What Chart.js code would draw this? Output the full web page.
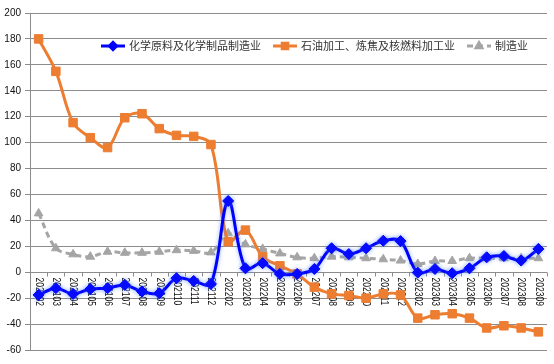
<!DOCTYPE html>
<html>
<head>
<meta charset="utf-8">
<script src="https://cdn.jsdelivr.net/npm/chart.js@4"></script>
<style>
  html, body { margin: 0; padding: 0; background: #fff; }
  #wrap { width: 554px; height: 364px; }
</style>
</head>
<body>
<div id="wrap"><canvas id="chart1" width="554" height="364"></canvas></div>
<script>
// months
let months = ["202102","202103","202104","202105","202106","202107","202108","202109","202110","202111","202112",
  "202202","202203","202204","202205","202206","202207","202208","202209","202210","202211","202212",
  "202302","202303","202304","202305","202306","202307","202308","202309"];
// series
let chemVals = [-17.5, -12.3, -16.7, -13, -12.3, -9.8, -14.9, -16.2, -4.6, -6.7, -9,
  55, 3, 7, -1.3, -1.3, 2.5, 18.5, 14, 18.5, 24.3, 24,
  -0.3, 2.5, -0.8, 3, 11.5, 12.5, 9, 18];
let oilVals = [180, 155, 115.4, 103.8, 96.2, 119.2, 122.3, 110.8, 105.6, 104.8, 98.5,
  23.5, 32.5, 12, 5, -1.3, -11.5, -16.7, -18, -20, -16.7, -17.5,
  -35.4, -32.8, -32, -35.4, -43, -41.3, -43, -46];
let mfgVals = [45.4, 18.5, 13.8, 12, 15.8, 15, 15, 15.8, 17, 16.5, 15.3,
  30, 21.5, 18, 14.5, 11.5, 10.8, 12, 11.5, 10.8, 10, 9,
  6.4, 8.7, 8.7, 10.8, 10.8, 10.8, 10.8, 10.8];
let seriesNames = ["化学原料及化学制品制造业", "石油加工、炼焦及核燃料加工业", "制造业"];
let yMin = -60, yMax = 200, yStep = 20;

const gridCol = "#8c8c8c";

// blue glow
const glowPlugin = {
    id: "glow",
    beforeDatasetDraw(chart, args) {
        if (args.index === 0) {
            chart.ctx.shadowColor = "rgba(80,130,255,0.6)";
            chart.ctx.shadowBlur = 4;
        }
    },
    afterDatasetDraw(chart, args) {
        chart.ctx.shadowColor = "rgba(0,0,0,0)";
        chart.ctx.shadowBlur = 0;
    }
};

// zero axis line, tick marks and vertical labels
const zeroAxis = {
    id: "zeroAxis",
    beforeDatasetsDraw(chart) {
        let ctx = chart.ctx, xs = chart.scales.x, ys = chart.scales.y;
        let a = chart.chartArea;
        let y0 = Math.round(ys.getPixelForValue(0)) + 0.5;
        let step = xs.getPixelForValue(1) - xs.getPixelForValue(0);
        ctx.save();
        ctx.strokeStyle = gridCol;
        ctx.lineWidth = 1;
        ctx.beginPath();
        ctx.moveTo(a.left, y0);
        ctx.lineTo(a.right, y0);
        for (let i = 0; i <= months.length; i++) {
            let x = Math.round(xs.getPixelForValue(i) - step / 2) + 0.5;
            ctx.moveTo(x, y0);
            ctx.lineTo(x, y0 + 4);
        }
        ctx.stroke();
        ctx.fillStyle = "#111";
        ctx.font = "10px 'Liberation Sans', Arial, sans-serif";
        ctx.textAlign = "left";
        ctx.textBaseline = "middle";
        months.forEach((m, i) => {
            ctx.save();
            ctx.translate(xs.getPixelForValue(i), y0 + 5);
            ctx.rotate(Math.PI / 2);
            ctx.scale(0.85, 1);
            ctx.fillText(m, 0, 0);
            ctx.restore();
        });
        ctx.restore();
    }
};

// legend inside the plot
const innerLegend = {
    id: "innerLegend",
    afterDraw(chart) {
        let ctx = chart.ctx;
        let x = 101, y = 46;
        ctx.save();
        ctx.font = "11px 'Noto Sans CJK SC', sans-serif";
        ctx.textBaseline = "middle";
        ctx.textAlign = "left";
        chart.data.datasets.forEach(ds => {
            ctx.save();
            ctx.strokeStyle = ds.borderColor;
            ctx.lineWidth = 3;
            ctx.setLineDash(ds.borderDash || []);
            ctx.beginPath();
            ctx.moveTo(x, y);
            ctx.lineTo(x + 24, y);
            ctx.stroke();
            ctx.setLineDash([]);
            ctx.fillStyle = ds.pointBackgroundColor;
            ctx.strokeStyle = ds.pointBorderColor;
            Chart.helpers.drawPoint(ctx, {pointStyle: ds.pointStyle, radius: ds.pointRadius * 0.65, borderWidth: 1, rotation: 0}, x + 12, y);
            ctx.restore();
            x += 28;
            ctx.fillStyle = "#333";
            ctx.fillText(ds.label, x, y);
            x += ctx.measureText(ds.label).width + 12;
        });
        ctx.restore();
    }
};

new Chart(document.getElementById("chart1"), {
    type: "line",
    data: {
        labels: months,
        datasets: [
            { label: seriesNames[0], data: chemVals, borderColor: "#0000ff", borderWidth: 3,
              pointStyle: "rectRot", pointRadius: 5.5, pointBackgroundColor: "#0000ff", pointBorderColor: "#0000ff",
              pointBorderWidth: 1, tension: 0.35 },
            { label: seriesNames[1], data: oilVals, borderColor: "#ed7d31", borderWidth: 3,
              pointStyle: "rect", pointRadius: 6, pointBackgroundColor: "#ed7d31", pointBorderColor: "#ed7d31",
              pointBorderWidth: 1, tension: 0.35 },
            { label: seriesNames[2], data: mfgVals, borderColor: "#a5a5a5", borderWidth: 3, borderDash: [6, 4],
              pointStyle: "triangle", pointRadius: 5, pointBackgroundColor: "#a5a5a5", pointBorderColor: "#a5a5a5",
              pointBorderWidth: 1, tension: 0.35 }
        ]
    },
    options: {
        responsive: false,
        animation: false,
        layout: { padding: { left: 0, top: 13, right: 2, bottom: 14 } },
        plugins: { legend: { display: false }, tooltip: { enabled: false } },
        scales: {
            x: { display: false, offset: true },
            y: {
                min: yMin, max: yMax,
                afterFit: s => { s.width = 30; },
                ticks: { stepSize: yStep, color: "#111", padding: 4,
                         font: { family: "'Liberation Sans', Arial, sans-serif", size: 10 } },
                grid: { color: gridCol, tickLength: 5 },
                border: { color: gridCol }
            }
        }
    },
    plugins: [glowPlugin, zeroAxis, innerLegend]
});
</script>
</body>
</html>
